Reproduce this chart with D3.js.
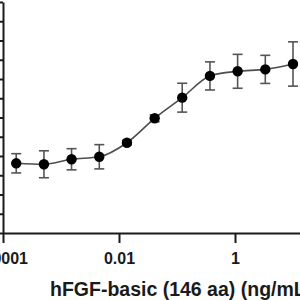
<!DOCTYPE html>
<html>
<head>
<meta charset="utf-8">
<script src="https://cdn.jsdelivr.net/npm/d3@7"></script>
<style>
  body { margin: 0; background: #fff; }
  svg { display: block; font-family: "Liberation Sans", Arial, sans-serif; }
  .axis path, .axis line { stroke: #1a1a1a; stroke-width: 2; }
  .x.axis text { font-size: 16px; font-weight: bold; fill: #1a1a1a; }
</style>
</head>
<body>
<div id="chart"></div>
<script>
// concentrations, 3-fold dilution (ng/mL)
var conc = [0.000169, 0.000508, 0.00152, 0.00457, 0.0137, 0.0412, 0.123, 0.370, 1.11, 3.33, 10];
// mean response and SD
var meanVal = [0.362, 0.357, 0.383, 0.396, 0.469, 0.596, 0.703, 0.816, 0.840, 0.850, 0.878];
var sdVal = [0.050, 0.070, 0.055, 0.063, 0.012, 0.018, 0.075, 0.073, 0.088, 0.073, 0.115];
var xTicks = [0.0001, 0.01, 1];
var xTickLabels = ["0.0001", "0.01", "1"];
var yTicks = [0, 0.1, 0.2, 0.3, 0.4, 0.5, 0.6, 0.7, 0.8, 0.9, 1.0, 1.1, 1.2];
var xLabel = "hFGF-basic (146 aa) (ng/mL)";

var width = 300, height = 300;

var data = conc.map(function(c, i) {
    return {x: c, y: meanVal[i], sd: sdVal[i]};
});

// scales
var x = d3.scaleLog().domain([0.0001, 100]).range([3, 351]);
var y = d3.scaleLinear().domain([0, 1.2]).range([233, 2]);

var svg = d3.select("#chart")
    .append("svg")
        .attr("width", width)
        .attr("height", height);

// fitted line through the means
var line = d3.line()
    .x(function(d) { return x(d.x); })
    .y(function(d) { return y(d.y); })
    .curve(d3.curveMonotoneX);

svg.append("path")
    .attr("d", line(data))
    .style("fill", "none")
    .style("stroke", "#4d4d4d")
    .style("stroke-width", 1.6);

// error bars
var err = svg.selectAll(".err")
    .data(data)
    .enter()
    .append("g")
    .attr("class", "err")
    .style("stroke", "#555")
    .style("stroke-width", 1.6);

err.append("line")
    .attr("x1", function(d) { return x(d.x); })
    .attr("x2", function(d) { return x(d.x); })
    .attr("y1", function(d) { return y(d.y - d.sd); })
    .attr("y2", function(d) { return y(d.y + d.sd); });

err.append("line")
    .attr("x1", function(d) { return x(d.x) - 5; })
    .attr("x2", function(d) { return x(d.x) + 5; })
    .attr("y1", function(d) { return y(d.y + d.sd); })
    .attr("y2", function(d) { return y(d.y + d.sd); });

err.append("line")
    .attr("x1", function(d) { return x(d.x) - 5; })
    .attr("x2", function(d) { return x(d.x) + 5; })
    .attr("y1", function(d) { return y(d.y - d.sd); })
    .attr("y2", function(d) { return y(d.y - d.sd); });

// points
svg.selectAll("circle")
    .data(data)
    .enter()
    .append("circle")
    .attr("r", 5.2)
    .attr("cx", function(d) { return x(d.x); })
    .attr("cy", function(d) { return y(d.y); })
    .style("fill", "#000");

// X axis
svg.append("g")
    .attr("class", "x axis")
    .attr("transform", "translate(0,233)")
    .call(d3.axisBottom(x)
        .tickValues(xTicks)
        .tickFormat(function(d, i) { return xTickLabels[i]; })
        .tickSize(10)
        .tickSizeOuter(0)
        .tickPadding(10));

// Y axis (labels are outside the visible area)
svg.append("g")
    .attr("class", "y axis")
    .attr("transform", "translate(3,0)")
    .call(d3.axisLeft(y)
        .tickValues(yTicks)
        .tickFormat("")
        .tickSize(6)
        .tickSizeOuter(0));

// text label x axis
svg.append("text")
    .attr("x", 50)
    .attr("y", 296)
    .style("font-size", "19.5px")
    .style("font-weight", "bold")
    .style("fill", "#1a1a1a")
    .text(xLabel);
</script>
</body>
</html>
